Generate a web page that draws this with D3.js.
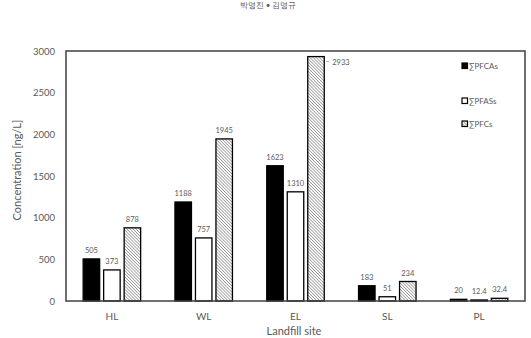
<!DOCTYPE html>
<html>
<head>
<meta charset="utf-8">
<script src="https://cdn.jsdelivr.net/npm/d3@7"></script>
<style>
  body { margin: 0; background: #fff; }
  svg { display: block; }
  text { font-family: Lato, "Open Sans", sans-serif; fill: #595959; }
</style>
</head>
<body>
<script>
// chart data
var sites = ["HL", "WL", "EL", "SL", "PL"];
var seriesNames = ["∑PFCAs", "∑PFASs", "∑PFCs"];
var pfcas = [505, 1188, 1623, 183, 20];
var pfass = [373, 757, 1310, 51, 12.4];
var pfcs = [878, 1945, 2933, 234, 32.4];
var yTicks = [0, 500, 1000, 1500, 2000, 2500, 3000];

var w = 531, h = 338;
var box = {left: 66, right: 525, top: 51, bottom: 301};

var svg = d3.select("body").append("svg")
  .attr("width", w)
  .attr("height", h);

// hatch pattern for the third series
var defs = svg.append("defs");
var pat = defs.append("pattern")
  .attr("id", "hatch")
  .attr("patternUnits", "userSpaceOnUse")
  .attr("width", 2.2)
  .attr("height", 2.2)
  .attr("patternTransform", "rotate(-45)");
pat.append("rect").attr("width", 2.2).attr("height", 2.2).attr("fill", "#fff");
pat.append("line")
  .attr("x1", 0).attr("y1", 0).attr("x2", 0).attr("y2", 2.2)
  .attr("stroke", "#5a5a5a").attr("stroke-width", 1);

var fills = ["#000", "#fff", "url(#hatch)"];
var values = [pfcas, pfass, pfcs];

var x0 = d3.scaleBand().domain(sites).range([box.left, box.right]);
var x1 = d3.scaleBand().domain(seriesNames).range([-28.75, 28.75]).paddingInner(0.195);
var y = d3.scaleLinear().domain([0, 3000]).range([box.bottom, box.top]);

// running header
svg.append("text")
  .attr("x", 268).attr("y", 8)
  .attr("text-anchor", "middle")
  .attr("font-size", 8)
  .text("박영진 • 김영규");

// y tick labels (no tick marks)
var yAxis = d3.axisLeft(y).tickValues(yTicks).tickSize(0).tickPadding(11).tickFormat(d3.format("d"));
var gy = svg.append("g").attr("transform", "translate(" + box.left + ",0)").call(yAxis);
gy.select(".domain").remove();
gy.selectAll("text")
  .attr("font-size", 9.5)
  .style("font-family", "Lato, sans-serif")
  .style("fill", "#595959");

// x category labels
var xAxis = d3.axisBottom(x0).tickSize(0).tickPadding(12);
var gx = svg.append("g").attr("transform", "translate(0," + box.bottom + ")").call(xAxis);
gx.select(".domain").remove();
gx.selectAll("text")
  .attr("font-size", 10)
  .style("font-family", "Lato, sans-serif")
  .style("fill", "#595959");

// bars
var groups = svg.selectAll("g.site")
  .data(sites)
  .enter().append("g")
  .attr("class", "site")
  .attr("transform", function(d) { return "translate(" + (x0(d) + x0.bandwidth() / 2) + ",0)"; });

groups.each(function(site, i) {
  var g = d3.select(this);
  seriesNames.forEach(function(s, j) {
    var v = values[j][i];
    g.append("rect")
      .attr("x", x1(s))
      .attr("y", y(v))
      .attr("width", x1.bandwidth())
      .attr("height", y(0) - y(v))
      .attr("fill", fills[j])
      .attr("stroke", "#000")
      .attr("stroke-width", 1.3);
    if (site === "EL" && j === 2) {
      // label placed to the right with a short leader
      g.append("line")
        .attr("x1", x1(s) + x1.bandwidth() + 2)
        .attr("x2", x1(s) + x1.bandwidth() + 5)
        .attr("y1", y(v) + 5).attr("y2", y(v) + 5)
        .attr("stroke", "#999").attr("stroke-width", 0.8);
      g.append("text")
        .attr("x", x1(s) + x1.bandwidth() + 8)
        .attr("y", y(v) + 8)
        .attr("font-size", 7.5)
        .text(v);
    } else {
      g.append("text")
        .attr("x", x1(s) + x1.bandwidth() / 2)
        .attr("y", y(v) - 6)
        .attr("text-anchor", "middle")
        .attr("font-size", 7.5)
        .text(v);
    }
  });
});

// plot frame
svg.append("rect")
  .attr("x", box.left).attr("y", box.top)
  .attr("width", box.right - box.left)
  .attr("height", box.bottom - box.top)
  .attr("fill", "none")
  .attr("stroke", "#404040")
  .attr("stroke-width", 1.5);

// axis titles
svg.append("text")
  .attr("transform", "translate(21," + 170 + ") rotate(-90)")
  .attr("text-anchor", "middle")
  .attr("font-size", 11)
  .text("Concentration [ng/L]");

svg.append("text")
  .attr("x", 294).attr("y", 335)
  .attr("text-anchor", "middle")
  .attr("font-size", 11)
  .text("Landfill site");

// legend
var legendY = [66, 101, 124];
var leg = svg.selectAll("g.legend")
  .data(seriesNames)
  .enter().append("g")
  .attr("class", "legend")
  .attr("transform", function(d, i) { return "translate(462," + legendY[i] + ")"; });
leg.append("rect")
  .attr("x", 0).attr("y", -3)
  .attr("width", 5.5).attr("height", 5.5)
  .attr("fill", function(d, i) { return fills[i]; })
  .attr("stroke", "#000")
  .attr("stroke-width", 1.2);
leg.append("text")
  .attr("x", 7).attr("y", 3)
  .attr("font-size", 8)
  .text(function(d) { return d; });
</script>
</body>
</html>
